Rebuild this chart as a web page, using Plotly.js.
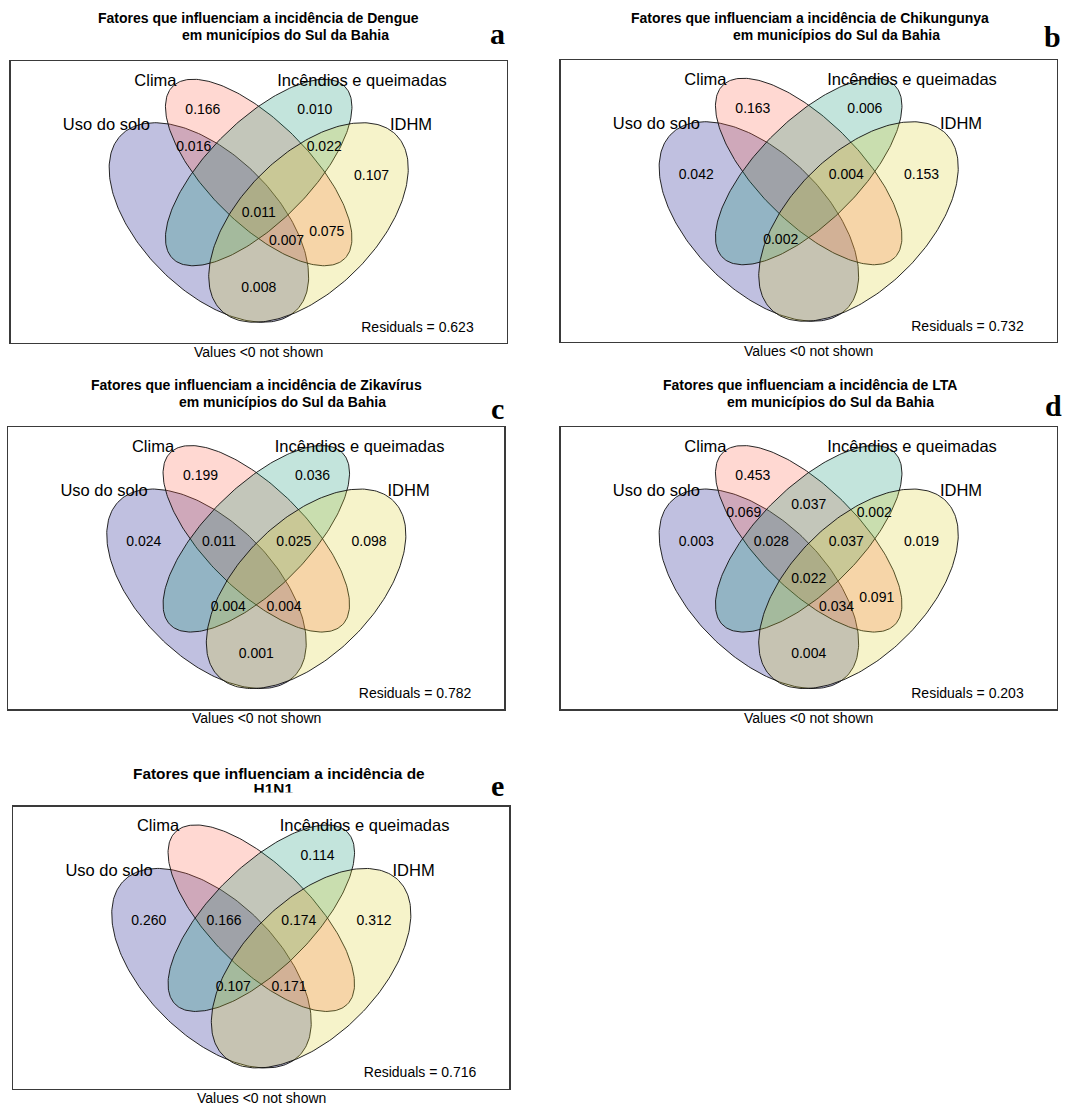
<!DOCTYPE html>
<html>
<head>
<meta charset="utf-8">
<script src="https://cdn.plot.ly/plotly-3.0.1.min.js"></script>
<style>html,body{margin:0;padding:0;background:#fff}</style>
</head>
<body>
<div id="chart" style="width:1077px;height:1106px"></div>
<script>
// ---- data -------------------------------------------------------------
// Variation-partitioning fractions (adjusted R²); null = fraction not shown.
// U = Uso do solo, C = Clima, I = Incêndios e queimadas, H = IDHM
const regions = ['U', 'C', 'I', 'H', 'UC', 'CI', 'IH', 'UCI', 'CIH', 'UCIH', 'UCH', 'UIH', 'CH', 'UI', 'UH'];

const setNames = ['Uso do solo', 'Clima', 'Incêndios e queimadas', 'IDHM'];

const diseases = ['Dengue', 'Chikungunya', 'Zikavírus', 'LTA', 'H1N1'];
const panelLetters = ['a', 'b', 'c', 'd', 'e'];

const dengue      = [null, 0.166, 0.010, 0.107, 0.016, null, 0.022, null, null, 0.011, 0.007, null, 0.075, null, 0.008];
const chikungunya = [0.042, 0.163, 0.006, 0.153, null, null, null, null, 0.004, null, null, 0.002, null, null, null];
const zikavirus   = [0.024, 0.199, 0.036, 0.098, null, null, null, 0.011, 0.025, null, 0.004, 0.004, null, null, 0.001];
const lta         = [0.003, 0.453, null, 0.019, 0.069, 0.037, 0.002, 0.028, 0.037, 0.022, 0.034, null, 0.091, null, 0.004];
const h1n1        = [0.260, null, 0.114, 0.312, null, null, null, 0.166, 0.174, null, 0.171, 0.107, null, null, null];

const residuals = [0.623, 0.732, 0.782, 0.203, 0.716];

// ---- layout geometry (pixels) -----------------------------------------
const FIG_W = 1077, FIG_H = 1106;
const BOX_W = 496, BOX_H = 282;
const MID = BOX_W / 2;

const boxes = [
  {l: 10.7, t: 61},
  {l: 560.7, t: 60},
  {l: 8.3, t: 427.3},
  {l: 560.7, t: 427.3},
  {l: 13.3, t: 806.7}
];

// Ellipses drawn inside each box (box pixel coords, y grows downward)
const ellipses = [
  {cx: MID - 49.8, cy: 161.5, a: 123.9, b: 67.5, rot: 45,  fill: 'rgba(0,0,128,0.247)'},
  {cx: MID,        cy: 111.5, a: 121.7, b: 50.8, rot: 45,  fill: 'rgba(255,99,71,0.247)'},
  {cx: MID,        cy: 111.5, a: 121.7, b: 50.8, rot: -45, fill: 'rgba(12,146,113,0.247)'},
  {cx: MID + 49.8, cy: 161.5, a: 123.9, b: 67.5, rot: -45, fill: 'rgba(218,205,40,0.247)'}
];

// Label anchor for each fraction: [offset from box centre, y]
const regionPos = {
  U: [-112.5, 115], C: [-55.8, 49.5], I: [56.2, 49.5], H: [112.8, 115],
  UC: [-65, 86.7], CI: [0, 77.8], IH: [65.5, 86.7],
  UCI: [-37.3, 115.1], CIH: [37.6, 115.1], UCIH: [0, 152.1],
  UCH: [27.8, 180.5], UIH: [-28, 180.5], CH: [68, 171.1], UI: [-68, 171.1],
  UH: [0, 227.2]
};

// Set name anchors (same order as setNames)
const namePos = [[-152.3, 65], [-103.3, 20.5], [103.3, 20.5], [152.3, 65]];

const FONT = 'Liberation Sans, Arial, sans-serif';
const SERIF = 'Liberation Serif, Times New Roman, serif';

const panelValues = [dengue, chikungunya, zikavirus, lta, h1n1];

function ellipsePoints(e) {
  const n = 240, r = e.rot * Math.PI / 180;
  const xs = [], ys = [];
  for (let k = 0; k <= n; k++) {
    const t = 2 * Math.PI * k / n;
    const u = e.a * Math.cos(t), v = e.b * Math.sin(t);
    xs.push(e.cx + u * Math.cos(r) - v * Math.sin(r));
    ys.push(e.cy + u * Math.sin(r) + v * Math.cos(r));
  }
  return {xs, ys};
}

const traces = [];
const layout = {
  width: FIG_W, height: FIG_H,
  margin: {l: 0, r: 0, t: 0, b: 0},
  paper_bgcolor: '#fff', plot_bgcolor: 'rgba(0,0,0,0)',
  showlegend: false,
  annotations: []
};

boxes.forEach((bx, i) => {
  const k = i + 1;
  const xa = 'x' + k, ya = 'y' + k;
  layout['xaxis' + k] = {
    domain: [bx.l / FIG_W, (bx.l + BOX_W) / FIG_W], range: [0, BOX_W],
    anchor: ya, showgrid: false, zeroline: false, showticklabels: false, ticks: '',
    showline: true, mirror: true, linecolor: '#3a3a3a', linewidth: 1.3, fixedrange: true
  };
  layout['yaxis' + k] = {
    domain: [1 - (bx.t + BOX_H) / FIG_H, 1 - bx.t / FIG_H], range: [BOX_H, 0],
    anchor: xa, showgrid: false, zeroline: false, showticklabels: false, ticks: '',
    showline: true, mirror: true, linecolor: '#3a3a3a', linewidth: 1.3, fixedrange: true
  };

  ellipses.forEach(e => {
    const p = ellipsePoints(e);
    traces.push({
      type: 'scatter', mode: 'lines', x: p.xs, y: p.ys, xaxis: xa, yaxis: ya,
      fill: 'toself', fillcolor: e.fill,
      line: {color: 'rgba(15,15,15,0.9)', width: 1}, hoverinfo: 'skip'
    });
  });

  traces.push({
    type: 'scatter', mode: 'text', xaxis: xa, yaxis: ya,
    x: namePos.map(p => MID + p[0]), y: namePos.map(p => p[1]),
    text: setNames, textposition: 'middle center', cliponaxis: false,
    textfont: {family: FONT, size: 16.5, color: '#000'}, hoverinfo: 'skip'
  });

  const vals = panelValues[i];
  const vx = [], vy = [], vt = [];
  regions.forEach((r, j) => {
    if (vals[j] === null) return;
    vx.push(MID + regionPos[r][0]);
    vy.push(regionPos[r][1]);
    vt.push(vals[j].toFixed(3));
  });
  traces.push({
    type: 'scatter', mode: 'text', xaxis: xa, yaxis: ya,
    x: vx, y: vy, text: vt, textposition: 'middle center', cliponaxis: false,
    textfont: {family: FONT, size: 14, color: '#000'}, hoverinfo: 'skip'
  });

  traces.push({
    type: 'scatter', mode: 'text', xaxis: xa, yaxis: ya,
    x: [463], y: [267.3], text: ['Residuals = ' + residuals[i].toFixed(3)],
    textposition: 'middle left', cliponaxis: false,
    textfont: {family: FONT, size: 14, color: '#000'}, hoverinfo: 'skip'
  });

  const cxp = bx.l + BOX_W / 2;
  layout.annotations.push({
    xref: 'paper', yref: 'paper', x: cxp / FIG_W, y: 1 - (bx.t + BOX_H + 9) / FIG_H,
    text: 'Values <0 not shown', showarrow: false, xanchor: 'center', yanchor: 'middle',
    font: {family: FONT, size: 14, color: '#000'}
  });
});

// Titles
const titleSpec = [
  {x1: 258.2, y1: 18, x2: 285, y2: 35},
  {x1: 809.5, y1: 18, x2: 836.8, y2: 35},
  {x1: 256, y1: 385, x2: 282.5, y2: 402},
  {x1: 809.7, y1: 385, x2: 830.8, y2: 402}
];
titleSpec.forEach((s, i) => {
  layout.annotations.push({
    xref: 'paper', yref: 'paper', x: s.x1 / FIG_W, y: 1 - s.y1 / FIG_H,
    text: '<b>Fatores que influenciam a incidência de ' + diseases[i] + '</b>',
    showarrow: false, xanchor: 'center', yanchor: 'middle',
    font: {family: FONT, size: 14, color: '#000'}
  });
  layout.annotations.push({
    xref: 'paper', yref: 'paper', x: s.x2 / FIG_W, y: 1 - s.y2 / FIG_H,
    text: '<b>em municípios do Sul da Bahia</b>',
    showarrow: false, xanchor: 'center', yanchor: 'middle',
    font: {family: FONT, size: 14, color: '#000'}
  });
});
layout.annotations.push({
  xref: 'paper', yref: 'paper', x: 278.8 / FIG_W, y: 1 - 773.3 / FIG_H,
  text: '<b>Fatores que influenciam a incidência de</b>',
  showarrow: false, xanchor: 'center', yanchor: 'middle',
  font: {family: FONT, size: 15.4, color: '#000'}
});

// Second title line of panel e, cut off by a small clipping subplot
layout.xaxis6 = {domain: [0, 540 / FIG_W], range: [0, 540], anchor: 'y6', visible: false, fixedrange: true};
layout.yaxis6 = {domain: [1 - 792.5 / FIG_H, 1 - 760 / FIG_H], range: [792.5, 760], anchor: 'x6', visible: false, fixedrange: true};
traces.push({
  type: 'scatter', mode: 'text', xaxis: 'x6', yaxis: 'y6',
  x: [273.3], y: [790.5], text: [diseases[4]], textposition: 'middle center', cliponaxis: true,
  textfont: {family: FONT, size: 15.4, color: '#000', weight: 'bold'}, hoverinfo: 'skip'
});

// Panel letters
const letterPos = [[497, 33], [1052, 37], [497, 408], [1053, 406], [497, 785]];
letterPos.forEach((p, i) => {
  layout.annotations.push({
    xref: 'paper', yref: 'paper', x: p[0] / FIG_W, y: 1 - p[1] / FIG_H,
    text: '<b>' + panelLetters[i] + '</b>', showarrow: false,
    xanchor: 'center', yanchor: 'middle',
    font: {family: SERIF, size: 30, color: '#000'}
  });
});

Plotly.newPlot('chart', traces, layout, {staticPlot: true, displayModeBar: false});
</script>
</body>
</html>
